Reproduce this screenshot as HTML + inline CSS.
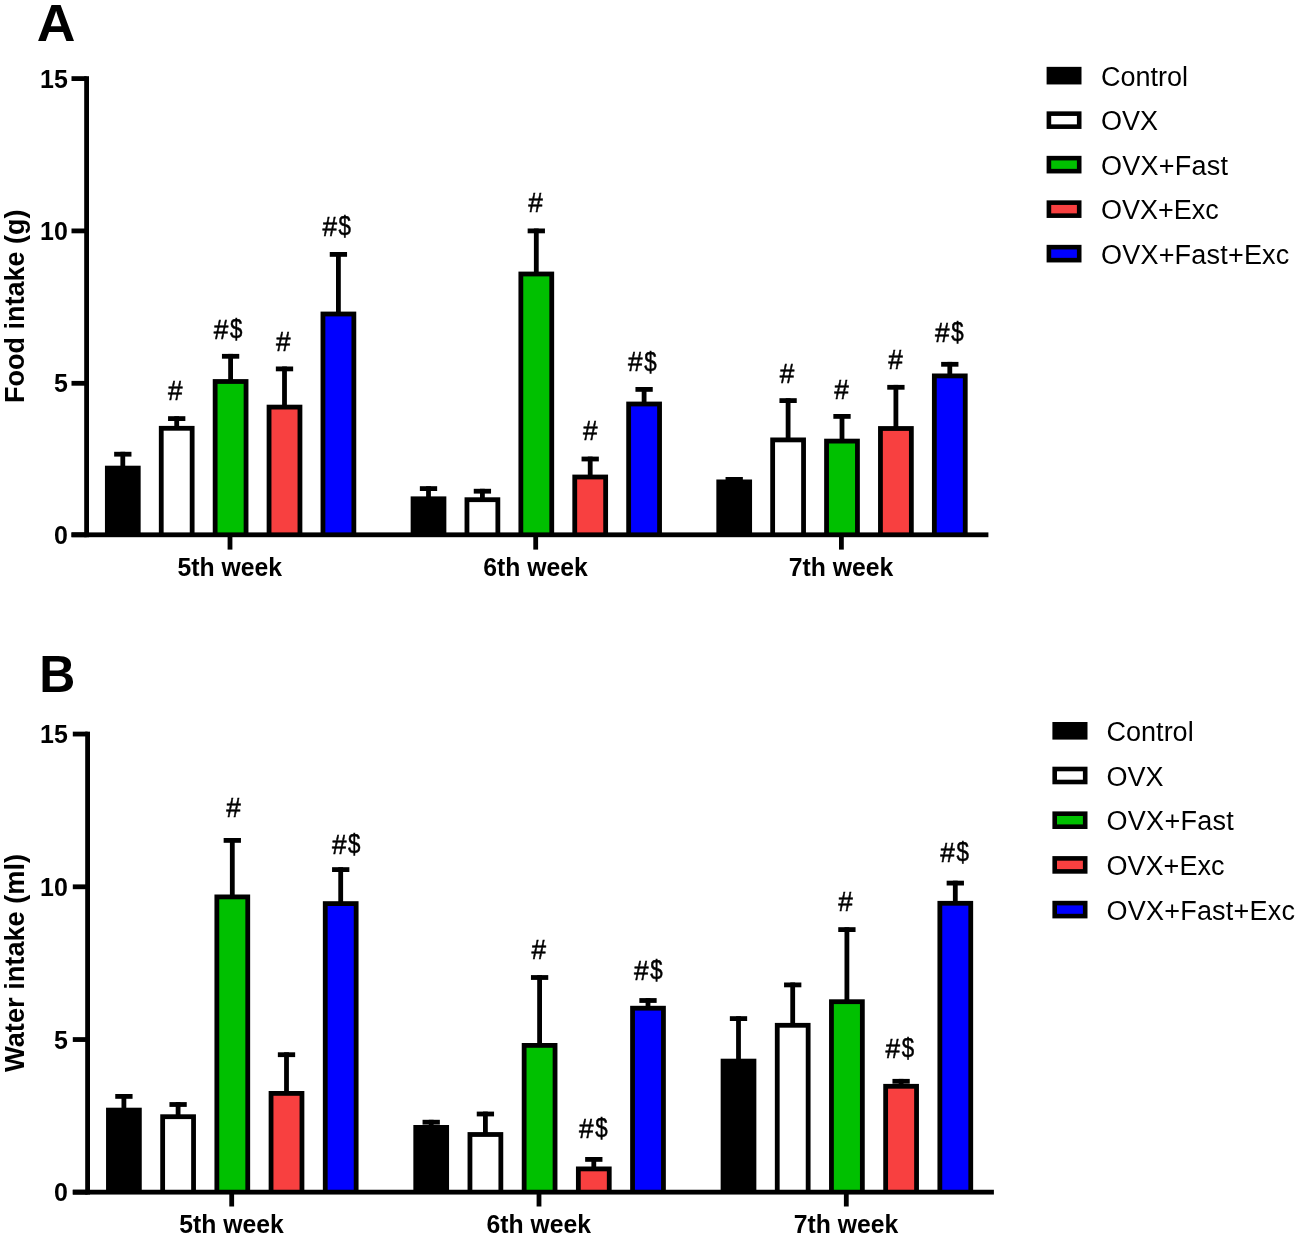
<!DOCTYPE html>
<html><head><meta charset="utf-8"><style>
html,body{margin:0;padding:0;background:#fff;width:1300px;height:1237px;overflow:hidden}
svg{display:block;will-change:transform}
text{font-family:"Liberation Sans",sans-serif;fill:#000}
</style></head><body>
<svg width="1300" height="1237" viewBox="0 0 1300 1237">
<rect x="84.20" y="76.20" width="4.80" height="461.00" fill="#000"/>
<rect x="71.50" y="76.20" width="15.10" height="4.80" fill="#000"/>
<text x="0" y="0" font-size="26" font-weight="bold" text-anchor="end" transform="translate(67.85,87.60) scale(0.96,1)">15</text>
<rect x="71.50" y="228.50" width="15.10" height="4.80" fill="#000"/>
<text x="0" y="0" font-size="26" font-weight="bold" text-anchor="end" transform="translate(67.85,239.90) scale(0.96,1)">10</text>
<rect x="71.50" y="380.90" width="15.10" height="4.80" fill="#000"/>
<text x="0" y="0" font-size="26" font-weight="bold" text-anchor="end" transform="translate(67.85,392.30) scale(0.96,1)">5</text>
<rect x="71.50" y="532.40" width="15.10" height="4.80" fill="#000"/>
<text x="0" y="0" font-size="26" font-weight="bold" text-anchor="end" transform="translate(67.85,543.80) scale(0.96,1)">0</text>
<rect x="227.60" y="534.80" width="4.80" height="14.80" fill="#000"/>
<text x="0" y="0" font-size="25" font-weight="bold" text-anchor="middle" transform="translate(229.70,575.50) scale(0.99,1)">5th week</text>
<rect x="120.40" y="451.80" width="4.80" height="15.90" fill="#000"/>
<rect x="114.15" y="451.80" width="17.30" height="4.80" fill="#000"/>
<rect x="104.95" y="465.70" width="35.70" height="69.10" fill="#000"/>
<rect x="174.30" y="416.20" width="4.80" height="11.70" fill="#000"/>
<rect x="168.05" y="416.20" width="17.30" height="4.80" fill="#000"/>
<rect x="158.85" y="425.90" width="35.70" height="108.90" fill="#000"/>
<rect x="163.65" y="430.70" width="26.10" height="104.10" fill="#ffffff"/>
<rect x="228.20" y="353.90" width="4.80" height="27.20" fill="#000"/>
<rect x="221.95" y="353.90" width="17.30" height="4.80" fill="#000"/>
<rect x="212.75" y="379.10" width="35.70" height="155.70" fill="#000"/>
<rect x="217.55" y="383.90" width="26.10" height="150.90" fill="#00c000"/>
<rect x="282.10" y="366.50" width="4.80" height="40.20" fill="#000"/>
<rect x="275.85" y="366.50" width="17.30" height="4.80" fill="#000"/>
<rect x="266.65" y="404.70" width="35.70" height="130.10" fill="#000"/>
<rect x="271.45" y="409.50" width="26.10" height="125.30" fill="#f84040"/>
<rect x="336.00" y="252.00" width="4.80" height="61.60" fill="#000"/>
<rect x="329.75" y="252.00" width="17.30" height="4.80" fill="#000"/>
<rect x="320.55" y="311.60" width="35.70" height="223.20" fill="#000"/>
<rect x="325.35" y="316.40" width="26.10" height="218.40" fill="#0000ff"/>
<rect x="533.30" y="534.80" width="4.80" height="14.80" fill="#000"/>
<text x="0" y="0" font-size="25" font-weight="bold" text-anchor="middle" transform="translate(535.40,575.50) scale(0.99,1)">6th week</text>
<rect x="426.10" y="486.20" width="4.80" height="12.20" fill="#000"/>
<rect x="419.85" y="486.20" width="17.30" height="4.80" fill="#000"/>
<rect x="410.65" y="496.40" width="35.70" height="38.40" fill="#000"/>
<rect x="480.00" y="488.80" width="4.80" height="10.50" fill="#000"/>
<rect x="473.75" y="488.80" width="17.30" height="4.80" fill="#000"/>
<rect x="464.55" y="497.30" width="35.70" height="37.50" fill="#000"/>
<rect x="469.35" y="502.10" width="26.10" height="32.70" fill="#ffffff"/>
<rect x="533.90" y="228.50" width="4.80" height="45.10" fill="#000"/>
<rect x="527.65" y="228.50" width="17.30" height="4.80" fill="#000"/>
<rect x="518.45" y="271.60" width="35.70" height="263.20" fill="#000"/>
<rect x="523.25" y="276.40" width="26.10" height="258.40" fill="#00c000"/>
<rect x="587.80" y="456.60" width="4.80" height="20.00" fill="#000"/>
<rect x="581.55" y="456.60" width="17.30" height="4.80" fill="#000"/>
<rect x="572.35" y="474.60" width="35.70" height="60.20" fill="#000"/>
<rect x="577.15" y="479.40" width="26.10" height="55.40" fill="#f84040"/>
<rect x="641.70" y="387.00" width="4.80" height="16.60" fill="#000"/>
<rect x="635.45" y="387.00" width="17.30" height="4.80" fill="#000"/>
<rect x="626.25" y="401.60" width="35.70" height="133.20" fill="#000"/>
<rect x="631.05" y="406.40" width="26.10" height="128.40" fill="#0000ff"/>
<rect x="839.00" y="534.80" width="4.80" height="14.80" fill="#000"/>
<text x="0" y="0" font-size="25" font-weight="bold" text-anchor="middle" transform="translate(841.10,575.50) scale(0.99,1)">7th week</text>
<rect x="731.80" y="477.00" width="4.80" height="4.50" fill="#000"/>
<rect x="725.55" y="477.00" width="17.30" height="4.80" fill="#000"/>
<rect x="716.35" y="479.50" width="35.70" height="55.30" fill="#000"/>
<rect x="785.70" y="398.20" width="4.80" height="41.30" fill="#000"/>
<rect x="779.45" y="398.20" width="17.30" height="4.80" fill="#000"/>
<rect x="770.25" y="437.50" width="35.70" height="97.30" fill="#000"/>
<rect x="775.05" y="442.30" width="26.10" height="92.50" fill="#ffffff"/>
<rect x="839.60" y="414.00" width="4.80" height="26.70" fill="#000"/>
<rect x="833.35" y="414.00" width="17.30" height="4.80" fill="#000"/>
<rect x="824.15" y="438.70" width="35.70" height="96.10" fill="#000"/>
<rect x="828.95" y="443.50" width="26.10" height="91.30" fill="#00c000"/>
<rect x="893.50" y="384.90" width="4.80" height="43.20" fill="#000"/>
<rect x="887.25" y="384.90" width="17.30" height="4.80" fill="#000"/>
<rect x="878.05" y="426.10" width="35.70" height="108.70" fill="#000"/>
<rect x="882.85" y="430.90" width="26.10" height="103.90" fill="#f84040"/>
<rect x="947.40" y="361.90" width="4.80" height="13.60" fill="#000"/>
<rect x="941.15" y="361.90" width="17.30" height="4.80" fill="#000"/>
<rect x="931.95" y="373.50" width="35.70" height="161.30" fill="#000"/>
<rect x="936.75" y="378.30" width="26.10" height="156.50" fill="#0000ff"/>
<text x="0" y="0" font-size="27" stroke="#000" stroke-width="0.5" transform="translate(168.10,400.35) scale(0.97,1.005)">#</text>
<text x="0" y="0" font-size="27" stroke="#000" stroke-width="0.5" transform="translate(213.80,339.15) scale(0.97,1.005)">#</text>
<text x="0" y="0" font-size="27" stroke="#000" stroke-width="0.5" transform="translate(230.00,338.25) scale(0.827,1.037)">$</text>
<text x="0" y="0" font-size="27" stroke="#000" stroke-width="0.5" transform="translate(276.10,351.15) scale(0.97,1.005)">#</text>
<text x="0" y="0" font-size="27" stroke="#000" stroke-width="0.5" transform="translate(322.40,236.15) scale(0.97,1.005)">#</text>
<text x="0" y="0" font-size="27" stroke="#000" stroke-width="0.5" transform="translate(338.60,235.25) scale(0.827,1.037)">$</text>
<text x="0" y="0" font-size="27" stroke="#000" stroke-width="0.5" transform="translate(528.20,212.05) scale(0.97,1.005)">#</text>
<text x="0" y="0" font-size="27" stroke="#000" stroke-width="0.5" transform="translate(582.90,439.55) scale(0.97,1.005)">#</text>
<text x="0" y="0" font-size="27" stroke="#000" stroke-width="0.5" transform="translate(628.10,371.45) scale(0.97,1.005)">#</text>
<text x="0" y="0" font-size="27" stroke="#000" stroke-width="0.5" transform="translate(644.30,370.55) scale(0.827,1.037)">$</text>
<text x="0" y="0" font-size="27" stroke="#000" stroke-width="0.5" transform="translate(779.80,383.45) scale(0.97,1.005)">#</text>
<text x="0" y="0" font-size="27" stroke="#000" stroke-width="0.5" transform="translate(834.30,398.55) scale(0.97,1.005)">#</text>
<text x="0" y="0" font-size="27" stroke="#000" stroke-width="0.5" transform="translate(888.20,369.05) scale(0.97,1.005)">#</text>
<text x="0" y="0" font-size="27" stroke="#000" stroke-width="0.5" transform="translate(935.00,342.15) scale(0.97,1.005)">#</text>
<text x="0" y="0" font-size="27" stroke="#000" stroke-width="0.5" transform="translate(951.20,341.25) scale(0.827,1.037)">$</text>
<rect x="71.50" y="532.40" width="916.90" height="4.80" fill="#000"/>
<rect x="1046.60" y="66.85" width="34.90" height="17.60" fill="#000"/>
<text x="1101.00" y="85.75" font-size="27" font-weight="normal" text-anchor="start" >Control</text>
<rect x="1046.60" y="111.35" width="34.90" height="17.60" fill="#000"/>
<rect x="1051.20" y="115.95" width="25.70" height="8.40" fill="#ffffff"/>
<text x="1101.00" y="130.25" font-size="27" font-weight="normal" text-anchor="start" >OVX</text>
<rect x="1046.60" y="155.85" width="34.90" height="17.60" fill="#000"/>
<rect x="1051.20" y="160.45" width="25.70" height="8.40" fill="#00c000"/>
<text x="1101.00" y="174.75" font-size="27" font-weight="normal" text-anchor="start" textLength="127.1" lengthAdjust="spacing">OVX+Fast</text>
<rect x="1046.60" y="200.35" width="34.90" height="17.60" fill="#000"/>
<rect x="1051.20" y="204.95" width="25.70" height="8.40" fill="#f84040"/>
<text x="1101.00" y="219.25" font-size="27" font-weight="normal" text-anchor="start" >OVX+Exc</text>
<rect x="1046.60" y="244.85" width="34.90" height="17.60" fill="#000"/>
<rect x="1051.20" y="249.45" width="25.70" height="8.40" fill="#0000ff"/>
<text x="1101.00" y="263.75" font-size="27" font-weight="normal" text-anchor="start" textLength="188.3" lengthAdjust="spacing">OVX+Fast+Exc</text>
<text x="0" y="0" font-size="27" font-weight="bold" text-anchor="middle" transform="translate(23.80,306.20) rotate(-90)">Food intake (g)</text>
<text x="0" y="0" font-size="52" font-weight="bold" transform="translate(36.80,40.80) scale(1.03,1)">A</text>
<rect x="85.20" y="731.65" width="4.80" height="462.90" fill="#000"/>
<rect x="72.80" y="731.65" width="14.80" height="4.80" fill="#000"/>
<text x="0" y="0" font-size="26" font-weight="bold" text-anchor="end" transform="translate(67.85,743.05) scale(0.96,1)">15</text>
<rect x="72.80" y="884.40" width="14.80" height="4.80" fill="#000"/>
<text x="0" y="0" font-size="26" font-weight="bold" text-anchor="end" transform="translate(67.85,895.80) scale(0.96,1)">10</text>
<rect x="72.80" y="1037.15" width="14.80" height="4.80" fill="#000"/>
<text x="0" y="0" font-size="26" font-weight="bold" text-anchor="end" transform="translate(67.85,1048.55) scale(0.96,1)">5</text>
<rect x="72.80" y="1189.75" width="14.80" height="4.80" fill="#000"/>
<text x="0" y="0" font-size="26" font-weight="bold" text-anchor="end" transform="translate(67.85,1201.15) scale(0.96,1)">0</text>
<rect x="229.30" y="1192.15" width="4.80" height="14.35" fill="#000"/>
<text x="0" y="0" font-size="25" font-weight="bold" text-anchor="middle" transform="translate(231.40,1233.00) scale(0.99,1)">5th week</text>
<rect x="121.50" y="1094.00" width="4.80" height="15.70" fill="#000"/>
<rect x="115.25" y="1094.00" width="17.30" height="4.80" fill="#000"/>
<rect x="106.05" y="1107.70" width="35.70" height="84.45" fill="#000"/>
<rect x="175.70" y="1102.10" width="4.80" height="14.20" fill="#000"/>
<rect x="169.45" y="1102.10" width="17.30" height="4.80" fill="#000"/>
<rect x="160.25" y="1114.30" width="35.70" height="77.85" fill="#000"/>
<rect x="165.05" y="1119.10" width="26.10" height="73.05" fill="#ffffff"/>
<rect x="229.90" y="838.00" width="4.80" height="58.50" fill="#000"/>
<rect x="223.65" y="838.00" width="17.30" height="4.80" fill="#000"/>
<rect x="214.45" y="894.50" width="35.70" height="297.65" fill="#000"/>
<rect x="219.25" y="899.30" width="26.10" height="292.85" fill="#00c000"/>
<rect x="284.10" y="1052.30" width="4.80" height="40.70" fill="#000"/>
<rect x="277.85" y="1052.30" width="17.30" height="4.80" fill="#000"/>
<rect x="268.65" y="1091.00" width="35.70" height="101.15" fill="#000"/>
<rect x="273.45" y="1095.80" width="26.10" height="96.35" fill="#f84040"/>
<rect x="338.30" y="867.20" width="4.80" height="36.00" fill="#000"/>
<rect x="332.05" y="867.20" width="17.30" height="4.80" fill="#000"/>
<rect x="322.85" y="901.20" width="35.70" height="290.95" fill="#000"/>
<rect x="327.65" y="906.00" width="26.10" height="286.15" fill="#0000ff"/>
<rect x="536.60" y="1192.15" width="4.80" height="14.35" fill="#000"/>
<text x="0" y="0" font-size="25" font-weight="bold" text-anchor="middle" transform="translate(538.70,1233.00) scale(0.99,1)">6th week</text>
<rect x="428.80" y="1119.80" width="4.80" height="7.20" fill="#000"/>
<rect x="422.55" y="1119.80" width="17.30" height="4.80" fill="#000"/>
<rect x="413.35" y="1125.00" width="35.70" height="67.15" fill="#000"/>
<rect x="483.00" y="1111.60" width="4.80" height="22.50" fill="#000"/>
<rect x="476.75" y="1111.60" width="17.30" height="4.80" fill="#000"/>
<rect x="467.55" y="1132.10" width="35.70" height="60.05" fill="#000"/>
<rect x="472.35" y="1136.90" width="26.10" height="55.25" fill="#ffffff"/>
<rect x="537.20" y="975.10" width="4.80" height="69.90" fill="#000"/>
<rect x="530.95" y="975.10" width="17.30" height="4.80" fill="#000"/>
<rect x="521.75" y="1043.00" width="35.70" height="149.15" fill="#000"/>
<rect x="526.55" y="1047.80" width="26.10" height="144.35" fill="#00c000"/>
<rect x="591.40" y="1157.00" width="4.80" height="11.50" fill="#000"/>
<rect x="585.15" y="1157.00" width="17.30" height="4.80" fill="#000"/>
<rect x="575.95" y="1166.50" width="35.70" height="25.65" fill="#000"/>
<rect x="580.75" y="1171.30" width="26.10" height="20.85" fill="#f84040"/>
<rect x="645.60" y="998.10" width="4.80" height="9.70" fill="#000"/>
<rect x="639.35" y="998.10" width="17.30" height="4.80" fill="#000"/>
<rect x="630.15" y="1005.80" width="35.70" height="186.35" fill="#000"/>
<rect x="634.95" y="1010.60" width="26.10" height="181.55" fill="#0000ff"/>
<rect x="843.90" y="1192.15" width="4.80" height="14.35" fill="#000"/>
<text x="0" y="0" font-size="25" font-weight="bold" text-anchor="middle" transform="translate(846.00,1233.00) scale(0.99,1)">7th week</text>
<rect x="736.10" y="1016.20" width="4.80" height="44.50" fill="#000"/>
<rect x="729.85" y="1016.20" width="17.30" height="4.80" fill="#000"/>
<rect x="720.65" y="1058.70" width="35.70" height="133.45" fill="#000"/>
<rect x="790.30" y="982.50" width="4.80" height="42.40" fill="#000"/>
<rect x="784.05" y="982.50" width="17.30" height="4.80" fill="#000"/>
<rect x="774.85" y="1022.90" width="35.70" height="169.25" fill="#000"/>
<rect x="779.65" y="1027.70" width="26.10" height="164.45" fill="#ffffff"/>
<rect x="844.50" y="927.20" width="4.80" height="74.10" fill="#000"/>
<rect x="838.25" y="927.20" width="17.30" height="4.80" fill="#000"/>
<rect x="829.05" y="999.30" width="35.70" height="192.85" fill="#000"/>
<rect x="833.85" y="1004.10" width="26.10" height="188.05" fill="#00c000"/>
<rect x="898.70" y="1078.90" width="4.80" height="7.00" fill="#000"/>
<rect x="892.45" y="1078.90" width="17.30" height="4.80" fill="#000"/>
<rect x="883.25" y="1083.90" width="35.70" height="108.25" fill="#000"/>
<rect x="888.05" y="1088.70" width="26.10" height="103.45" fill="#f84040"/>
<rect x="952.90" y="880.70" width="4.80" height="22.20" fill="#000"/>
<rect x="946.65" y="880.70" width="17.30" height="4.80" fill="#000"/>
<rect x="937.45" y="900.90" width="35.70" height="291.25" fill="#000"/>
<rect x="942.25" y="905.70" width="26.10" height="286.45" fill="#0000ff"/>
<text x="0" y="0" font-size="27" stroke="#000" stroke-width="0.5" transform="translate(226.20,817.25) scale(0.97,1.005)">#</text>
<text x="0" y="0" font-size="27" stroke="#000" stroke-width="0.5" transform="translate(331.90,854.15) scale(0.97,1.005)">#</text>
<text x="0" y="0" font-size="27" stroke="#000" stroke-width="0.5" transform="translate(348.10,853.25) scale(0.827,1.037)">$</text>
<text x="0" y="0" font-size="27" stroke="#000" stroke-width="0.5" transform="translate(531.50,959.15) scale(0.97,1.005)">#</text>
<text x="0" y="0" font-size="27" stroke="#000" stroke-width="0.5" transform="translate(579.00,1138.25) scale(0.97,1.005)">#</text>
<text x="0" y="0" font-size="27" stroke="#000" stroke-width="0.5" transform="translate(595.20,1137.35) scale(0.827,1.037)">$</text>
<text x="0" y="0" font-size="27" stroke="#000" stroke-width="0.5" transform="translate(634.00,980.05) scale(0.97,1.005)">#</text>
<text x="0" y="0" font-size="27" stroke="#000" stroke-width="0.5" transform="translate(650.20,979.15) scale(0.827,1.037)">$</text>
<text x="0" y="0" font-size="27" stroke="#000" stroke-width="0.5" transform="translate(838.30,911.25) scale(0.97,1.005)">#</text>
<text x="0" y="0" font-size="27" stroke="#000" stroke-width="0.5" transform="translate(885.50,1058.35) scale(0.97,1.005)">#</text>
<text x="0" y="0" font-size="27" stroke="#000" stroke-width="0.5" transform="translate(901.70,1057.45) scale(0.827,1.037)">$</text>
<text x="0" y="0" font-size="27" stroke="#000" stroke-width="0.5" transform="translate(940.20,862.15) scale(0.97,1.005)">#</text>
<text x="0" y="0" font-size="27" stroke="#000" stroke-width="0.5" transform="translate(956.40,861.25) scale(0.827,1.037)">$</text>
<rect x="72.80" y="1189.75" width="921.10" height="4.80" fill="#000"/>
<rect x="1052.40" y="722.00" width="35.10" height="17.60" fill="#000"/>
<text x="1106.60" y="740.90" font-size="27" font-weight="normal" text-anchor="start" >Control</text>
<rect x="1052.40" y="766.70" width="35.10" height="17.60" fill="#000"/>
<rect x="1057.00" y="771.30" width="25.90" height="8.40" fill="#ffffff"/>
<text x="1106.60" y="785.60" font-size="27" font-weight="normal" text-anchor="start" >OVX</text>
<rect x="1052.40" y="811.40" width="35.10" height="17.60" fill="#000"/>
<rect x="1057.00" y="816.00" width="25.90" height="8.40" fill="#00c000"/>
<text x="1106.60" y="830.30" font-size="27" font-weight="normal" text-anchor="start" textLength="127.1" lengthAdjust="spacing">OVX+Fast</text>
<rect x="1052.40" y="856.10" width="35.10" height="17.60" fill="#000"/>
<rect x="1057.00" y="860.70" width="25.90" height="8.40" fill="#f84040"/>
<text x="1106.60" y="875.00" font-size="27" font-weight="normal" text-anchor="start" >OVX+Exc</text>
<rect x="1052.40" y="900.80" width="35.10" height="17.60" fill="#000"/>
<rect x="1057.00" y="905.40" width="25.90" height="8.40" fill="#0000ff"/>
<text x="1106.60" y="919.70" font-size="27" font-weight="normal" text-anchor="start" textLength="188.3" lengthAdjust="spacing">OVX+Fast+Exc</text>
<text x="0" y="0" font-size="27.2" font-weight="bold" text-anchor="middle" transform="translate(24.30,962.90) rotate(-90)">Water intake (ml)</text>
<text x="0" y="0" font-size="51.5" font-weight="bold" transform="translate(39.30,692.40) scale(0.97,1)">B</text>
</svg>
</body></html>
